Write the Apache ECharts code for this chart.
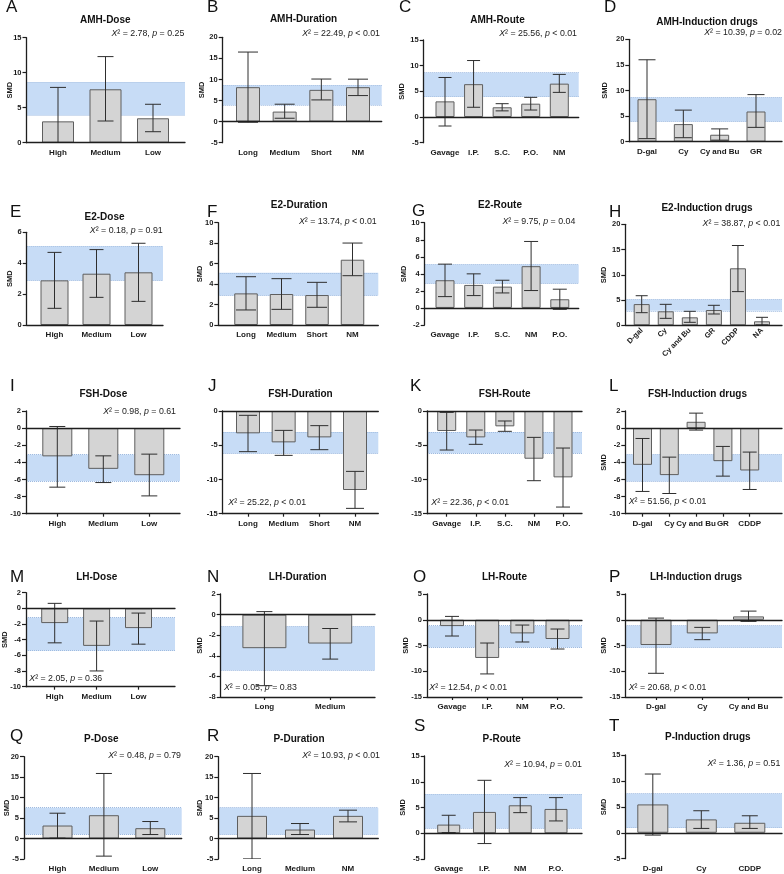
<!DOCTYPE html>
<html><head><meta charset="utf-8">
<script src="https://cdn.jsdelivr.net/npm/echarts@6/dist/echarts.min.js"></script>
<style>html,body{margin:0;padding:0;background:#fff}#c{width:784px;height:874px}</style>
</head><body><div id="c"></div><script>
// ---------------- DATA ----------------
const A_cats = ['High', 'Medium', 'Low'];
const A_mean = [3.05, 7.63, 3.49];
const A_lower = [-1.8, 3.1, 1.57];
const A_upper = [7.9, 12.3, 5.49];
const A_yAxis = [0, 15, 5];
const A_stat = ['2.78', '=', '0.25'];

const B_cats = ['Long', 'Medium', 'Short', 'NM'];
const B_mean = [8.17, 2.38, 7.53, 8.17];
const B_lower = [-0.15, 0.8, 5.15, 6.18];
const B_upper = [16.5, 4.13, 10.1, 10.07];
const B_yAxis = [-5, 20, 5];
const B_stat = ['22.49', '<', '0.01'];

const C_cats = ['Gavage', 'I.P.', 'S.C.', 'P.O.', 'NM'];
const C_mean = [3.05, 6.4, 1.9, 2.6, 6.5];
const C_lower = [-1.75, 1.9, 1.2, 1.36, 4.8];
const C_upper = [7.7, 11.0, 2.6, 3.83, 8.3];
const C_yAxis = [-5, 15, 5];
const C_stat = ['25.56', '<', '0.01'];

const D_cats = ['D-gal', 'Cy', 'Cy and Bu', 'GR'];
const D_mean = [8.3, 3.44, 1.36, 5.9];
const D_lower = [0.6, 0.78, 0.3, 2.8];
const D_upper = [16.0, 6.17, 2.5, 9.2];
const D_yAxis = [0, 20, 5];
const D_stat = ['10.39', '=', '0.02'];

const E_cats = ['High', 'Medium', 'Low'];
const E_mean = [2.89, 3.32, 3.41];
const E_lower = [1.08, 1.79, 1.53];
const E_upper = [4.7, 4.88, 5.29];
const E_yAxis = [0, 6, 2];
const E_stat = ['0.18', '=', '0.91'];

const F_cats = ['Long', 'Medium', 'Short', 'NM'];
const F_mean = [3.09, 3.03, 2.93, 6.38];
const F_lower = [1.47, 1.53, 1.73, 4.82];
const F_upper = [4.72, 4.53, 4.17, 8.01];
const F_yAxis = [0, 10, 2];
const F_stat = ['13.74', '<', '0.01'];

const G_cats = ['Gavage', 'I.P.', 'S.C.', 'NM', 'P.O.'];
const G_mean = [3.25, 2.7, 2.5, 4.9, 1.02];
const G_lower = [1.33, 1.45, 1.76, 2.04, -0.16];
const G_upper = [5.14, 4.0, 3.25, 7.8, 2.2];
const G_yAxis = [-2, 10, 2];
const G_stat = ['9.75', '=', '0.04'];

const H_cats = ['D-gal', 'Cy', 'Cy and Bu', 'GR', 'CDDP', 'NA'];
const H_mean = [4.2, 2.77, 1.58, 3.03, 11.29, 0.79];
const H_lower = [2.5, 1.38, 0.59, 2.24, 6.67, 0.05];
const H_upper = [5.86, 4.15, 2.77, 3.96, 15.8, 1.58];
const H_yAxis = [0, 20, 5];
const H_stat = ['38.87', '<', '0.01'];

const I_cats = ['High', 'Medium', 'Low'];
const I_mean = [-3.3, -4.76, -5.5];
const I_lower = [-6.9, -6.36, -7.92];
const I_upper = [0.19, -3.24, -3.04];
const I_yAxis = [-10, 2, 2];
const I_stat = ['0.98', '=', '0.61'];

const J_cats = ['Long', 'Medium', 'Short', 'NM'];
const J_mean = [-3.26, -4.58, -3.85, -11.54];
const J_lower = [-5.94, -6.48, -5.65, -14.22];
const J_upper = [-0.63, -2.83, -2.14, -8.82];
const J_yAxis = [-15, 0, 5];
const J_stat = ['25.22', '<', '0.01'];

const K_cats = ['Gavage', 'I.P.', 'S.C.', 'NM', 'P.O.'];
const K_mean = [-2.92, -3.85, -2.24, -6.97, -9.69];
const K_lower = [-5.7, -4.87, -2.97, -10.18, -14.03];
const K_upper = [-0.2, -2.78, -1.46, -3.85, -5.41];
const K_yAxis = [-15, 0, 5];
const K_stat = ['22.36', '<', '0.01'];

const L_cats = ['D-gal', 'Cy', 'Cy and Bu', 'GR', 'CDDP'];
const L_mean = [-4.29, -5.49, 0.74, -3.86, -4.95];
const L_lower = [-7.4, -7.64, -0.23, -5.61, -7.17];
const L_upper = [-1.21, -3.39, 1.75, -2.14, -2.8];
const L_yAxis = [-10, 2, 2];
const L_stat = ['51.56', '<', '0.01'];

const M_cats = ['High', 'Medium', 'Low'];
const M_mean = [-1.88, -4.79, -2.52];
const M_lower = [-4.4, -7.99, -4.57];
const M_upper = [0.64, -1.62, -0.6];
const M_yAxis = [-10, 2, 2];
const M_stat = ['2.05', '=', '0.36'];

const N_cats = ['Long', 'Medium'];
const N_mean = [-3.26, -2.81];
const N_lower = [-6.9, -4.32];
const N_upper = [0.29, -1.35];
const N_yAxis = [-8, 2, 2];
const N_stat = ['0.05', '=', '0.83'];

const O_cats = ['Gavage', 'I.P.', 'NM', 'P.O.'];
const O_mean = [-1.23, -7.42, -2.65, -3.74];
const O_lower = [-3.16, -10.52, -4.32, -5.68];
const O_upper = [0.65, -4.52, -1.03, -1.8];
const O_yAxis = [-15, 5, 5];
const O_stat = ['12.54', '<', '0.01'];

const P_cats = ['D-gal', 'Cy', 'Cy and Bu'];
const P_mean = [-4.9, -2.65, 0.65];
const P_lower = [-10.4, -3.87, -0.32];
const P_upper = [0.32, -1.48, 1.68];
const P_yAxis = [-15, 5, 5];
const P_stat = ['20.68', '<', '0.01'];

const Q_cats = ['High', 'Medium', 'Low'];
const Q_mean = [3.18, 5.7, 2.53];
const Q_lower = [0.1, -4.3, 0.98];
const Q_upper = [6.19, 15.9, 4.16];
const Q_yAxis = [-5, 20, 5];
const Q_stat = ['0.48', '=', '0.79'];

const R_cats = ['Long', 'Medium', 'NM'];
const R_mean = [5.54, 2.2, 5.54];
const R_lower = [-4.97, 0.98, 4.07];
const R_upper = [15.9, 3.67, 6.93];
const R_yAxis = [-5, 20, 5];
const R_stat = ['10.93', '<', '0.01'];

const S_cats = ['Gavage', 'I.P.', 'NM', 'P.O.'];
const S_mean = [1.68, 4.14, 5.43, 4.72];
const S_lower = [0.13, -2.0, 4.0, 2.39];
const S_upper = [3.49, 10.28, 6.92, 6.92];
const S_yAxis = [-5, 15, 5];
const S_stat = ['10.94', '=', '0.01'];

const T_cats = ['D-gal', 'Cy', 'CDDP'];
const T_mean = [5.47, 2.58, 1.93];
const T_lower = [-0.45, 0.84, 0.84];
const T_upper = [11.33, 4.25, 3.28];
const T_yAxis = [-5, 15, 5];
const T_stat = ['1.36', '=', '0.51'];

// pooled-effect bands per hormone
const bandAMH = [3.96, 8.63];
const bandE2 = [2.88, 5.1];
const bandFSH = [-6.2, -3.07];
const bandLH = [-5.4, -1.15];
const bandP = [0.97, 7.55];

const titles = {
  A: 'AMH-Dose', B: 'AMH-Duration', C: 'AMH-Route', D: 'AMH-Induction drugs',
  E: 'E2-Dose', F: 'E2-Duration', G: 'E2-Route', H: 'E2-Induction drugs',
  I: 'FSH-Dose', J: 'FSH-Duration', K: 'FSH-Route', L: 'FSH-Induction drugs',
  M: 'LH-Dose', N: 'LH-Duration', O: 'LH-Route', P: 'LH-Induction drugs',
  Q: 'P-Dose', R: 'P-Duration', S: 'P-Route', T: 'P-Induction drugs'
};

const panels = [
  ['A', A_cats, A_mean, A_lower, A_upper, A_yAxis, A_stat, bandAMH],
  ['B', B_cats, B_mean, B_lower, B_upper, B_yAxis, B_stat, bandAMH],
  ['C', C_cats, C_mean, C_lower, C_upper, C_yAxis, C_stat, bandAMH],
  ['D', D_cats, D_mean, D_lower, D_upper, D_yAxis, D_stat, bandAMH],
  ['E', E_cats, E_mean, E_lower, E_upper, E_yAxis, E_stat, bandE2],
  ['F', F_cats, F_mean, F_lower, F_upper, F_yAxis, F_stat, bandE2],
  ['G', G_cats, G_mean, G_lower, G_upper, G_yAxis, G_stat, bandE2],
  ['H', H_cats, H_mean, H_lower, H_upper, H_yAxis, H_stat, bandE2],
  ['I', I_cats, I_mean, I_lower, I_upper, I_yAxis, I_stat, bandFSH],
  ['J', J_cats, J_mean, J_lower, J_upper, J_yAxis, J_stat, bandFSH],
  ['K', K_cats, K_mean, K_lower, K_upper, K_yAxis, K_stat, bandFSH],
  ['L', L_cats, L_mean, L_lower, L_upper, L_yAxis, L_stat, bandFSH],
  ['M', M_cats, M_mean, M_lower, M_upper, M_yAxis, M_stat, bandLH],
  ['N', N_cats, N_mean, N_lower, N_upper, N_yAxis, N_stat, bandLH],
  ['O', O_cats, O_mean, O_lower, O_upper, O_yAxis, O_stat, bandLH],
  ['P', P_cats, P_mean, P_lower, P_upper, P_yAxis, P_stat, bandLH],
  ['Q', Q_cats, Q_mean, Q_lower, Q_upper, Q_yAxis, Q_stat, bandP],
  ['R', R_cats, R_mean, R_lower, R_upper, R_yAxis, R_stat, bandP],
  ['S', S_cats, S_mean, S_lower, S_upper, S_yAxis, S_stat, bandP],
  ['T', T_cats, T_mean, T_lower, T_upper, T_yAxis, T_stat, bandP]
];

// ---------------- LAYOUT (pixels) ----------------
const layout = {
  A: {ax: 26.5, xr: 185, yt: 37.7, yb: 142.7, c0: 58, c1: 153, bw: 32, cap: 16, letter: [6, 7], title: [105.3, 20.3], stat: [184.3, 33.7, 'right'], gap: 12.5, name: true, bottom: false, ticks: false, rot: 0},
  B: {ax: 222.7, xr: 381.7, yt: 37.3, yb: 142.7, c0: 248, c1: 358, bw: 24, cap: 20, letter: [207, 7], title: [303.5, 18.8], stat: [380, 34, 'right'], gap: 17, name: true, bottom: false, ticks: false, rot: 0},
  C: {ax: 423.7, xr: 578.7, yt: 40, yb: 142.7, c0: 445, c1: 559.3, bw: 19, cap: 13, letter: [399, 7], title: [497.5, 20], stat: [577, 33.7, 'right'], gap: 17.5, name: true, bottom: false, ticks: false, rot: 0},
  D: {ax: 629.3, xr: 782, yt: 39.3, yb: 141.7, c0: 647, c1: 756, bw: 19, cap: 17, letter: [604, 7], title: [707, 22], stat: [782, 33, 'right'], gap: 20, name: true, bottom: false, ticks: false, rot: 0},
  E: {ax: 26.7, xr: 163, yt: 232.3, yb: 325, c0: 54.5, c1: 138.5, bw: 28, cap: 14, letter: [10, 212], title: [104.5, 216.8], stat: [162.7, 231, 'right'], gap: 12.5, name: true, bottom: false, ticks: false, rot: 0},
  F: {ax: 218.3, xr: 378.3, yt: 222.7, yb: 325, c0: 246, c1: 352.5, bw: 23.5, cap: 20, letter: [207, 212], title: [299.2, 205.3], stat: [376.7, 221.7, 'right'], gap: 14, name: true, bottom: false, ticks: false, rot: 0},
  G: {ax: 424.7, xr: 578.7, yt: 222.7, yb: 325, c0: 445, c1: 559.8, bw: 19, cap: 14, letter: [412, 211.5], title: [500, 205.5], stat: [575.3, 221.7, 'right'], gap: 17, name: true, bottom: false, ticks: false, rot: 0},
  H: {ax: 625.3, xr: 782, yt: 224.3, yb: 325.3, c0: 641.7, c1: 762, bw: 16, cap: 12, letter: [609, 212.5], title: [707, 208], stat: [780.3, 224, 'right'], gap: 17.5, name: true, bottom: false, ticks: false, rot: 45},
  I: {ax: 26, xr: 180, yt: 411, yb: 513.7, c0: 57.3, c1: 149.3, bw: 30, cap: 16, letter: [10, 386.5], title: [103.3, 393.8], stat: [176, 411.2, 'right'], gap: 13, name: false, bottom: true, ticks: true, rot: 0},
  J: {ax: 222.7, xr: 378.3, yt: 411, yb: 513.7, c0: 248, c1: 355, bw: 24, cap: 18, letter: [208, 386.5], title: [300.5, 393.8], stat: [228.3, 503, 'left'], gap: 17, name: false, bottom: true, ticks: true, rot: 0},
  K: {ax: 427, xr: 582, yt: 411, yb: 513.7, c0: 446.7, c1: 563, bw: 19, cap: 14, letter: [410, 386.5], title: [504.7, 394], stat: [431.3, 503, 'left'], gap: 17, name: false, bottom: true, ticks: true, rot: 0},
  L: {ax: 625.3, xr: 782, yt: 411, yb: 513.7, c0: 642.5, c1: 749.7, bw: 19, cap: 14, letter: [609, 386.5], title: [697.5, 394], stat: [628.7, 502, 'left'], gap: 17.5, name: true, bottom: true, ticks: true, rot: 0},
  M: {ax: 26, xr: 175, yt: 592.7, yb: 686.7, c0: 54.7, c1: 138.5, bw: 27, cap: 14, letter: [10, 577.5], title: [96.7, 577.3], stat: [29.3, 679, 'left'], gap: 17, name: true, bottom: true, ticks: true, rot: 0},
  N: {ax: 220.7, xr: 375, yt: 594, yb: 697, c0: 264.4, c1: 330.2, bw: 44, cap: 16, letter: [207, 577.5], title: [297.7, 577.3], stat: [224, 688, 'left'], gap: 16.5, name: true, bottom: true, ticks: true, rot: 0},
  O: {ax: 427, xr: 582, yt: 594, yb: 697, c0: 452, c1: 557.5, bw: 24, cap: 14, letter: [413, 577.5], title: [504.5, 577.3], stat: [429.3, 688, 'left'], gap: 17, name: true, bottom: true, ticks: true, rot: 0},
  P: {ax: 625.3, xr: 782, yt: 594, yb: 697, c0: 656, c1: 748.5, bw: 31, cap: 16, letter: [609, 577.5], title: [696, 577.3], stat: [628.7, 688, 'left'], gap: 17.5, name: true, bottom: true, ticks: true, rot: 0},
  Q: {ax: 24, xr: 181.7, yt: 756.7, yb: 859, c0: 57.5, c1: 150.3, bw: 30, cap: 16, letter: [10, 736], title: [101.3, 738.8], stat: [181, 755.7, 'right'], gap: 13, name: true, bottom: false, ticks: false, rot: 0},
  R: {ax: 218.3, xr: 378.3, yt: 756.7, yb: 859, c0: 252, c1: 348, bw: 30, cap: 18, letter: [207, 736], title: [299, 738.8], stat: [380, 755.7, 'right'], gap: 14, name: true, bottom: false, ticks: false, rot: 0},
  S: {ax: 424.7, xr: 582, yt: 756, yb: 859, c0: 448.7, c1: 556, bw: 23, cap: 14, letter: [414, 726], title: [501.7, 738.8], stat: [582, 764.3, 'right'], gap: 17.5, name: true, bottom: false, ticks: false, rot: 0},
  T: {ax: 625.3, xr: 782, yt: 755, yb: 858.7, c0: 652.8, c1: 749.8, bw: 31, cap: 16, letter: [609, 726], title: [707.8, 737.2], stat: [780.3, 763.3, 'right'], gap: 17.5, name: true, bottom: false, ticks: false, rot: 0}
};

// ---------------- STYLE ----------------
const FONT = '"Liberation Sans", Arial, sans-serif';
const AXIS_COLOR = '#1e1e1e';
const TEXT_COLOR = '#1a1a1a';
const BAR_FILL = '#d4d4d4';
const BAR_EDGE = '#5e5e5e';
const ERR_COLOR = '#2e2e2e';
const BAND_FILL = '#c7dcf6';
const BAND_EDGE = '#9fbbe0';

function makeErr(cap) {
  return function (params, api) {
    const x = api.value(0);
    const p1 = api.coord([x, api.value(1)]);
    const p2 = api.coord([x, api.value(2)]);
    const h = cap / 2;
    const st = {stroke: ERR_COLOR, lineWidth: 1};
    return {type: 'group', children: [
      {type: 'line', shape: {x1: p1[0], y1: p1[1], x2: p2[0], y2: p2[1]}, style: st},
      {type: 'line', shape: {x1: p1[0] - h, y1: p1[1], x2: p1[0] + h, y2: p1[1]}, style: st},
      {type: 'line', shape: {x1: p2[0] - h, y1: p2[1], x2: p2[0] + h, y2: p2[1]}, style: st}
    ]};
  };
}

const grid = [], xAxis = [], yAxis = [], series = [], graphic = [];

panels.forEach(function (pn) {
  const id = pn[0], cats = pn[1], mean = pn[2], lower = pn[3], upper = pn[4];
  const yr = pn[5], stat = pn[6], band = pn[7];
  const L = layout[id];
  const n = cats.length;
  const s = n > 1 ? (L.c1 - L.c0) / (n - 1) : L.bw * 2;
  const lineStyle = {color: AXIS_COLOR, width: 1.3};

  const gF = grid.length;
  grid.push({left: L.ax, top: L.yt, width: L.xr - L.ax, height: L.yb - L.yt, outerBoundsMode: 'none', containLabel: false});
  const gD = grid.length;
  grid.push({left: L.c0 - s / 2, top: L.yt, width: n * s, height: L.yb - L.yt, outerBoundsMode: 'none', containLabel: false});

  const xZero = xAxis.length;
  xAxis.push({gridIndex: gF, type: 'value', min: 0, max: 1, position: 'bottom', z: 10,
    axisLine: {show: true, onZero: true, lineStyle: lineStyle},
    axisTick: {show: false}, axisLabel: {show: false}, splitLine: {show: false}});
  if (L.bottom) {
    xAxis.push({gridIndex: gF, type: 'value', min: 0, max: 1, position: 'bottom', z: 10,
      axisLine: {show: true, onZero: false, lineStyle: lineStyle},
      axisTick: {show: false}, axisLabel: {show: false}, splitLine: {show: false}});
  }
  const yF = yAxis.length;
  yAxis.push({gridIndex: gF, type: 'value', min: yr[0], max: yr[1], interval: yr[2], z: 10,
    axisLine: {show: true, lineStyle: lineStyle},
    axisTick: {show: true, length: 4, lineStyle: {color: AXIS_COLOR, width: 1.2}},
    axisLabel: {fontSize: 7.5, fontWeight: 'bold', fontFamily: FONT, color: TEXT_COLOR, margin: 5},
    splitLine: {show: false},
    name: L.name ? 'SMD' : '', nameLocation: 'middle', nameGap: L.gap, nameRotate: 90, nameMoveOverlap: false,
    nameTextStyle: {fontSize: 7.5, fontWeight: 'bold', fontFamily: FONT, color: TEXT_COLOR}});

  const xD = xAxis.length;
  xAxis.push({gridIndex: gD, type: 'category', data: cats, position: 'bottom',
    axisLine: {show: false, onZero: false},
    axisTick: {show: L.ticks, alignWithLabel: true, length: 3, lineStyle: {color: AXIS_COLOR, width: 1.2}},
    axisLabel: {interval: 0, fontSize: L.rot ? 7.5 : 8, fontWeight: 'bold', fontFamily: FONT, color: TEXT_COLOR,
      margin: L.rot ? 4 : 6, rotate: L.rot},
    splitLine: {show: false}});
  const yD = yAxis.length;
  yAxis.push({gridIndex: gD, type: 'value', min: yr[0], max: yr[1], interval: yr[2], show: false, splitLine: {show: false}});

  series.push({type: 'line', xAxisIndex: xZero, yAxisIndex: yF, data: [], silent: true, z: 1,
    markArea: {silent: true, z: 1, itemStyle: {color: BAND_FILL}, data: [[{yAxis: band[0]}, {yAxis: band[1]}]]},
    markLine: {silent: true, z: 2, symbol: ['none', 'none'], label: {show: false},
      lineStyle: {type: 'dotted', color: BAND_EDGE, width: 1}, data: [{yAxis: band[0]}, {yAxis: band[1]}]}});
  series.push({type: 'bar', xAxisIndex: xD, yAxisIndex: yD, data: mean, barWidth: L.bw, silent: true, z: 3,
    itemStyle: {color: BAR_FILL, borderColor: BAR_EDGE, borderWidth: 1}});
  series.push({type: 'custom', xAxisIndex: xD, yAxisIndex: yD, clip: true, silent: true, z: 4,
    data: cats.map(function (c, i) { return [i, lower[i], upper[i]]; }),
    encode: {x: 0, y: [1, 2]}, renderItem: makeErr(L.cap)});

  graphic.push({type: 'text', x: L.letter[0], y: L.letter[1], silent: true,
    style: {text: id, fontSize: 17, fontFamily: FONT, fill: '#111', align: 'left', verticalAlign: 'middle',
      textAlign: 'left', textVerticalAlign: 'middle'}});
  graphic.push({type: 'text', x: L.title[0], y: L.title[1], silent: true,
    style: {text: titles[id], fontSize: 10, fontWeight: 'bold', fontFamily: FONT, fill: '#111',
      align: 'center', verticalAlign: 'middle', textAlign: 'center', textVerticalAlign: 'middle'}});
  const base = {fontSize: 8.8, fontFamily: FONT, fill: TEXT_COLOR, color: TEXT_COLOR};
  graphic.push({type: 'text', x: L.stat[0], y: L.stat[1], silent: true,
    style: {text: '{i|X}{n|\u00B2 = ' + stat[0] + ', }{i|p}{n| ' + stat[1] + ' ' + stat[2] + '}',
      fontSize: 8.8, fontFamily: FONT, fill: TEXT_COLOR,
      align: L.stat[2], verticalAlign: 'middle', textAlign: L.stat[2], textVerticalAlign: 'middle',
      rich: {i: Object.assign({fontStyle: 'italic'}, base), n: Object.assign({}, base)}}});
});

const chart = echarts.init(document.getElementById('c'), null, {renderer: 'canvas'});
chart.setOption({animation: false, backgroundColor: '#fff', grid: grid, xAxis: xAxis, yAxis: yAxis, series: series, graphic: graphic});
</script></body></html>
